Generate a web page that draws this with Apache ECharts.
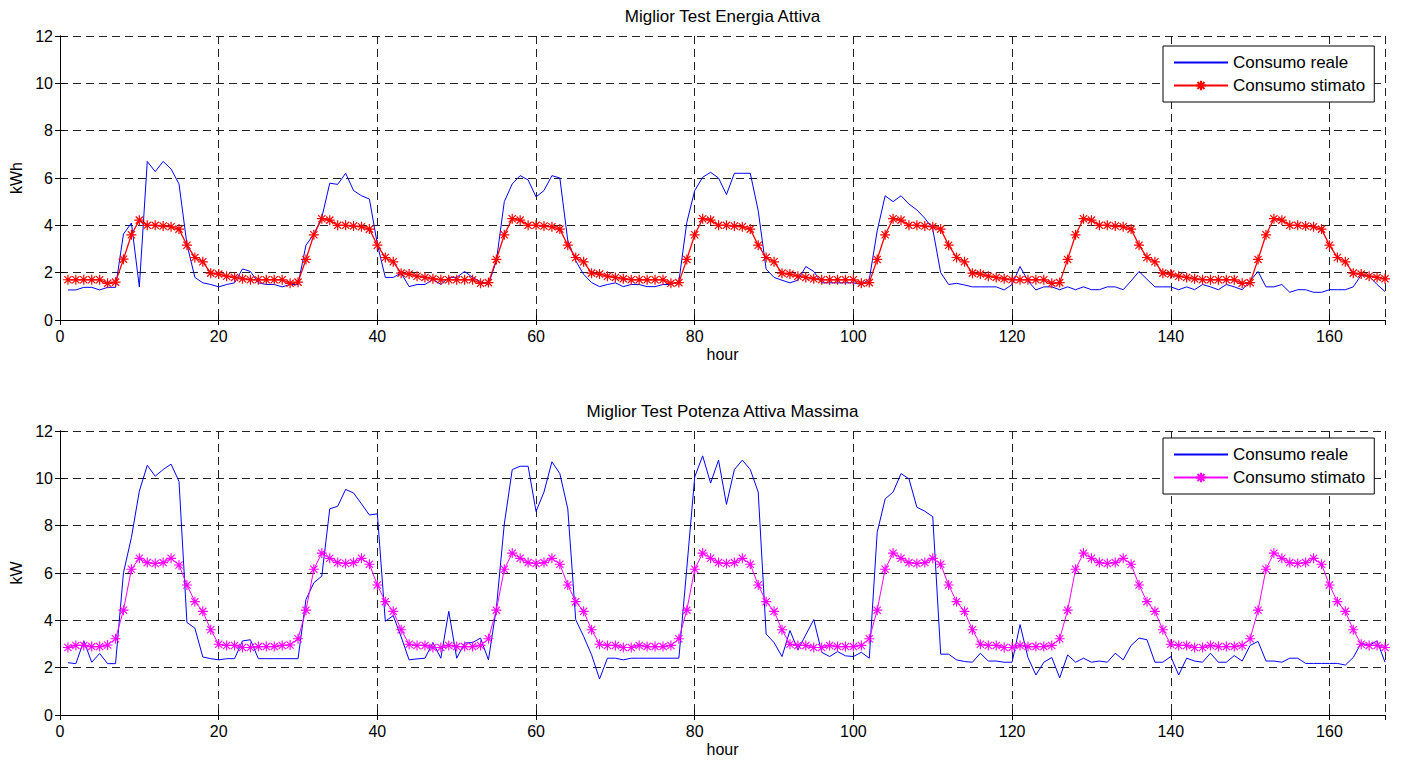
<!DOCTYPE html>
<html>
<head>
<meta charset="utf-8">
<script src="https://cdn.jsdelivr.net/npm/echarts@6/dist/echarts.min.js"></script>
<style>
html,body{margin:0;padding:0;background:#fff;}
#chart{width:1401px;height:762px;}
</style>
</head>
<body>
<div id="chart"></div>
<script>
// ---- data (hour index 1..167) ----
const titles = ['Miglior Test Energia Attiva', 'Miglior Test Potenza Attiva Massima'];
const yNames = ['kWh', 'kW'];
const xName = 'hour';
const legendNames = ['Consumo reale', 'Consumo stimato'];
const xTicks = [0, 20, 40, 60, 80, 100, 120, 140, 160];
const yTicks = [0, 2, 4, 6, 8, 10, 12];

// Energia attiva: consumo reale (kWh)
const energiaReale = [
  1.27,1.27,1.38,1.38,1.27,1.38,1.38,3.63,4.10,1.40,
  6.70,6.27,6.70,6.38,5.75,3.20,1.80,1.57,1.50,1.40,
  1.50,1.57,2.16,2.05,1.57,1.50,1.50,1.40,1.50,1.50,
  3.16,3.63,4.33,5.78,5.73,6.20,5.47,5.25,5.11,3.20,
  1.80,1.80,1.98,1.41,1.50,1.50,1.72,1.50,1.80,1.80,
  2.05,1.80,1.62,1.50,2.50,5.00,5.75,6.10,5.92,5.20,
  5.47,6.10,6.00,3.35,2.50,1.93,1.58,1.41,1.50,1.57,
  1.41,1.50,1.50,1.41,1.41,1.50,1.50,1.62,4.12,5.47,
  6.03,6.24,6.00,5.30,6.20,6.20,6.20,4.62,2.15,1.80,
  1.68,1.57,1.68,2.26,2.05,1.57,1.57,1.57,1.57,1.57,
  1.50,1.72,3.77,5.25,5.00,5.25,4.90,4.65,4.30,3.84,
  2.00,1.50,1.55,1.48,1.40,1.40,1.40,1.40,1.27,1.50,
  2.26,1.65,1.27,1.40,1.40,1.28,1.40,1.28,1.40,1.28,
  1.28,1.40,1.40,1.28,1.65,2.05,1.72,1.40,1.40,1.40,
  1.28,1.40,1.28,1.50,1.40,1.28,1.50,1.40,1.28,1.65,
  2.05,1.40,1.40,1.50,1.17,1.28,1.28,1.17,1.17,1.28,
  1.28,1.28,1.40,1.90,1.85,1.50,1.20
];

// Energia attiva: consumo stimato (kWh)
const energiaStimata = [
  1.70,1.70,1.70,1.70,1.70,1.55,1.60,
  2.57,3.60,4.22,4.00,4.00,3.97,3.94,3.84,3.16,2.64,2.46,1.98,1.94,1.85,1.80,1.74,1.70,1.70,1.70,1.70,1.70,1.55,1.60,
  2.56,3.60,4.28,4.22,4.00,4.00,3.97,3.94,3.84,3.16,2.64,2.46,1.98,1.94,1.85,1.80,1.74,1.70,1.70,1.70,1.70,1.70,1.55,1.58,
  2.56,3.60,4.28,4.22,4.00,4.00,3.97,3.94,3.84,3.16,2.64,2.46,1.98,1.94,1.85,1.80,1.74,1.70,1.70,1.70,1.70,1.70,1.55,1.58,
  2.56,3.60,4.28,4.22,4.00,4.00,3.97,3.94,3.84,3.16,2.64,2.46,1.98,1.94,1.85,1.80,1.74,1.70,1.70,1.70,1.70,1.70,1.55,1.58,
  2.56,3.60,4.28,4.22,4.00,4.00,3.97,3.94,3.84,3.16,2.64,2.46,1.98,1.94,1.85,1.80,1.74,1.70,1.70,1.70,1.70,1.70,1.55,1.58,
  2.56,3.60,4.28,4.22,4.00,4.00,3.97,3.94,3.84,3.16,2.64,2.46,1.98,1.94,1.85,1.80,1.74,1.70,1.70,1.70,1.70,1.70,1.55,1.58,
  2.56,3.60,4.28,4.22,4.00,4.00,3.97,3.94,3.84,3.16,2.64,2.46,1.98,1.94,1.85,1.80,1.74
];

// Potenza attiva massima: consumo reale (kW)
const potenzaReale = [
  2.21,2.17,3.13,2.23,2.60,2.17,2.17,6.01,7.50,9.46,
  10.55,10.09,10.37,10.60,9.87,3.91,3.67,2.45,2.38,2.33,
  2.38,2.38,3.13,3.18,2.38,2.38,2.38,2.38,2.38,2.38,
  4.88,5.59,5.87,8.71,8.82,9.53,9.38,8.92,8.45,8.50,
  3.96,4.20,3.30,2.33,2.37,2.40,3.06,2.40,4.38,2.40,
  3.04,3.06,3.25,2.33,4.52,8.07,10.37,10.51,10.51,8.60,
  9.42,10.70,10.20,8.71,4.03,3.32,2.54,1.52,2.40,2.40,
  2.33,2.40,2.40,2.40,2.40,2.40,2.40,2.40,6.20,10.06,
  10.95,9.80,10.77,8.90,10.37,10.77,10.37,9.42,3.42,3.06,
  2.47,3.57,2.75,3.39,4.03,2.65,2.47,2.68,2.50,2.47,
  2.65,2.40,7.72,9.13,9.42,10.20,9.98,8.78,8.61,8.38,
  2.57,2.57,2.33,2.26,2.23,2.61,2.28,2.28,2.23,2.23,
  3.82,2.43,1.69,2.23,2.43,1.57,2.54,2.23,2.40,2.23,
  2.28,2.23,2.61,2.33,2.94,3.25,3.18,2.23,2.23,2.47,
  1.69,2.40,2.28,2.23,2.61,2.23,2.23,2.51,2.28,2.94,
  3.11,2.28,2.28,2.23,2.40,2.40,2.18,2.18,2.18,2.18,
  2.18,2.11,2.43,3.04,2.94,3.13,2.23
];

// Potenza attiva massima: consumo stimato (kW)
const potenzaStimata = [
  2.85,2.94,2.94,2.89,2.89,2.96,
  3.22,4.43,6.16,6.62,6.44,6.40,6.44,6.62,6.34,5.49,4.79,4.38,3.60,2.99,2.94,2.94,2.85,2.85,2.89,2.89,2.89,2.94,2.96,
  3.22,4.43,6.16,6.84,6.62,6.44,6.40,6.44,6.62,6.37,5.49,4.79,4.38,3.60,2.99,2.94,2.94,2.85,2.85,2.94,2.89,2.89,2.89,2.94,
  3.22,4.43,6.16,6.84,6.62,6.44,6.40,6.44,6.62,6.37,5.49,4.79,4.38,3.60,2.99,2.94,2.94,2.85,2.85,2.94,2.89,2.89,2.89,2.94,
  3.22,4.43,6.16,6.84,6.62,6.44,6.40,6.44,6.62,6.37,5.49,4.79,4.38,3.60,2.99,2.94,2.94,2.85,2.85,2.94,2.89,2.89,2.89,2.94,
  3.22,4.43,6.16,6.84,6.62,6.44,6.40,6.44,6.62,6.37,5.49,4.79,4.38,3.60,2.99,2.94,2.94,2.85,2.85,2.94,2.89,2.89,2.89,2.94,
  3.22,4.43,6.16,6.84,6.62,6.44,6.40,6.44,6.62,6.37,5.49,4.79,4.38,3.60,2.99,2.94,2.94,2.85,2.85,2.94,2.89,2.89,2.89,2.94,
  3.22,4.43,6.16,6.84,6.62,6.44,6.40,6.44,6.62,6.37,5.49,4.79,4.38,3.60,2.99,2.94,2.94,2.85
];

// ---- chart ----
const FONT = '"Liberation Sans", Arial, Helvetica, sans-serif';
const ASTERISK = 'path://M0,-5L0,5M-5,0L5,0M-3.6,-3.6L3.6,3.6M-3.6,3.6L3.6,-3.6';
const hours = energiaReale.map((v, i) => i + 1);
const pairs = arr => arr.map((v, i) => [hours[i], v]);

const chart = echarts.init(document.getElementById('chart'), null, {renderer: 'svg'});

const grids = [
  {left: 60, right: 16, top: 36, height: 284},
  {left: 60, right: 16, top: 431, height: 284}
];

function xAxes(gi) {
  const common = {
    type: 'value', gridIndex: gi, min: xTicks[0], max: 167, interval: xTicks[1] - xTicks[0],
    axisLine: {show: true, lineStyle: {color: '#000', width: 1}},
    axisTick: {show: true, inside: true, length: 5, lineStyle: {color: '#000'}}
  };
  return [
    Object.assign({}, common, {
      position: 'bottom',
      name: xName, nameLocation: 'middle', nameGap: 26,
      nameTextStyle: {color: '#000', fontSize: 16, fontFamily: FONT},
      axisLabel: {show: true, color: '#000', fontSize: 16, fontFamily: FONT, margin: 8, showMaxLabel: false},
      splitLine: {show: true, lineStyle: {color: '#222', type: [8, 5], width: 1}}
    }),
    Object.assign({}, common, {
      position: 'top', axisLabel: {show: false}, splitLine: {show: false}
    })
  ];
}
function yAxes(gi) {
  const common = {
    type: 'value', gridIndex: gi, min: yTicks[0], max: yTicks[yTicks.length - 1], interval: yTicks[1] - yTicks[0],
    axisLine: {show: true, lineStyle: {color: '#000', width: 1}},
    axisTick: {show: true, inside: true, length: 5, lineStyle: {color: '#000'}}
  };
  return [
    Object.assign({}, common, {
      position: 'left',
      name: yNames[gi], nameLocation: 'middle', nameGap: 35,
      nameTextStyle: {color: '#000', fontSize: 16, fontFamily: FONT},
      axisLabel: {show: true, color: '#000', fontSize: 16, fontFamily: FONT, margin: 7},
      splitLine: {show: true, lineStyle: {color: '#222', type: [8, 5], width: 1}}
    }),
    Object.assign({}, common, {
      position: 'right', axisLabel: {show: false}, splitLine: {show: false}
    })
  ];
}

function legendFor(names, top) {
  return {
    data: [
      {name: names[0], itemStyle: {opacity: 0}},
      {name: names[1]}
    ],
    orient: 'vertical',
    left: 1163, top: top,
    itemWidth: 54, itemHeight: 12, itemGap: 6,
    padding: [8, 9, 8, 10],
    backgroundColor: '#fff',
    borderColor: '#000', borderWidth: 1, borderRadius: 0,
    selectedMode: false,
    formatter: n => n.trim(),
    textStyle: {color: '#000', fontSize: 17, fontFamily: FONT}
  };
}

const namesTop = legendNames;
const namesBottom = legendNames.map(n => n + ' ');

const option = {
  animation: false,
  backgroundColor: '#fff',
  graphic: [
    {type: 'text', x: 722.5, y: 16, style: {text: titles[0], fill: '#000', font: '17px ' + FONT, textAlign: 'center', textVerticalAlign: 'middle'}},
    {type: 'text', x: 722.5, y: 411, style: {text: titles[1], fill: '#000', font: '17px ' + FONT, textAlign: 'center', textVerticalAlign: 'middle'}}
  ],
  grid: grids,
  xAxis: [].concat(xAxes(0), xAxes(1)),
  yAxis: [].concat(yAxes(0), yAxes(1)),
  legend: [legendFor(namesTop, 46), legendFor(namesBottom, 438)],
  series: [
    {
      name: namesTop[0], type: 'line', xAxisIndex: 0, yAxisIndex: 0,
      data: pairs(energiaReale), symbol: 'none',
      lineStyle: {color: '#0000ff', width: 1}, itemStyle: {color: '#0000ff'}
    },
    {
      name: namesTop[1], type: 'line', xAxisIndex: 0, yAxisIndex: 0,
      data: pairs(energiaStimata), symbol: ASTERISK, symbolSize: 10, showSymbol: true,
      lineStyle: {color: '#ff0000', width: 1.3},
      itemStyle: {color: '#ff0000', borderColor: '#ff0000', borderWidth: 1.2}
    },
    {
      name: namesBottom[0], type: 'line', xAxisIndex: 2, yAxisIndex: 2,
      data: pairs(potenzaReale), symbol: 'none',
      lineStyle: {color: '#0000ff', width: 1}, itemStyle: {color: '#0000ff'}
    },
    {
      name: namesBottom[1], type: 'line', xAxisIndex: 2, yAxisIndex: 2,
      data: pairs(potenzaStimata), symbol: ASTERISK, symbolSize: 10, showSymbol: true,
      lineStyle: {color: '#ff00ff', width: 1},
      itemStyle: {color: '#ff00ff', borderColor: '#ff00ff', borderWidth: 1.1}
    }
  ]
};
chart.setOption(option);
</script>
</body>
</html>
